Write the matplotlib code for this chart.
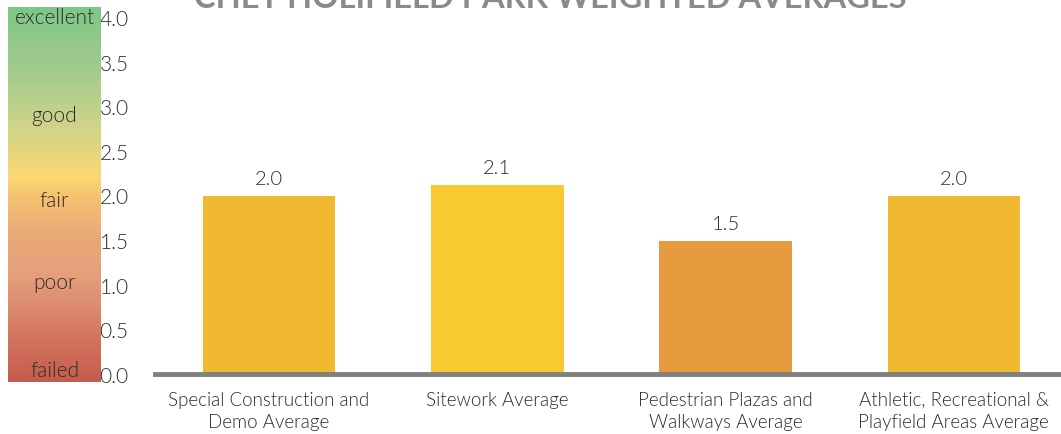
import matplotlib
matplotlib.use("Agg")
import matplotlib.pyplot as plt
import numpy as np
from matplotlib.colors import LinearSegmentedColormap

categories = ["Special Construction and\nDemo Average", "Sitework Average",
              "Pedestrian Plazas and\nWalkways Average", "Athletic, Recreational &\nPlayfield Areas Average"]
values = [2.0, 2.12, 1.49, 2.0]
value_labels = ["2.0", "2.1", "1.5", "2.0"]
bar_colors = ["#F0B92F", "#F8C930", "#E69B3E", "#F0B92F"]
yticks = [0.0, 0.5, 1.0, 1.5, 2.0, 2.5, 3.0, 3.5, 4.0]
scale_names = ["excellent", "good", "fair", "poor", "failed"]
scale_levels = [4.0, 2.9, 1.95, 1.03, 0.05]
title = "CHET HOLIFIELD PARK WEIGHTED AVERAGES"

plt.rcParams['font.family'] = ['Lato', 'DejaVu Sans']
W, H = 1061, 435
fig = plt.figure(figsize=(W/100, H/100), dpi=100)

def px(l, t, r, b):
    return [l/W, 1 - b/H, (r-l)/W, (b-t)/H]

LW = 300
TC = '#2b2b2b'
ax = fig.add_axes(px(155, 18, 1068, 375))
x = np.arange(len(categories))
ax.bar(x, values, width=0.58, color=bar_colors, zorder=2)
for xi, v, lab in zip(x, values, value_labels):
    ax.text(xi, v + 0.1, lab, ha='center', va='bottom', fontsize=14.5,
            color=TC, fontweight=LW)
ax.set_xlim(-0.5, 3.5)
ax.set_ylim(0, 4)
ax.set_yticks(yticks)
ax.set_yticklabels([f"{t:.1f}" for t in yticks], fontsize=15, color=TC, fontweight=LW)
ax.tick_params(axis='y', length=0, pad=19)
ax.set_xticks(x)
ax.set_xticklabels(categories, fontsize=13.5, color=TC, linespacing=1.4, fontweight=LW)
ax.tick_params(axis='x', length=0, pad=12)
for s in ['top', 'right', 'left']:
    ax.spines[s].set_visible(False)
ax.spines['bottom'].set_color('#808080')
ax.spines['bottom'].set_linewidth(3.5)
ax.spines['bottom'].set_zorder(3)

# colour scale
cax = fig.add_axes(px(8, 8, 101, 383))
ymin, ymax = -8/89.25, 4 + 10/89.25
cmap = LinearSegmentedColormap.from_list("scale", [
    (0.0, "#C65C4C"), (0.12, "#D27660"), (0.28, "#E59F7C"), (0.40, "#EAAA76"),
    (0.50, "#F5C470"), (0.545, "#FDD873"), (0.68, "#CFD488"), (0.82, "#A6CB8E"),
    (1.0, "#7CC786")])
grad = np.linspace(0, 1, 256).reshape(-1, 1)
cax.imshow(grad, aspect='auto', cmap=cmap, origin='lower', extent=[0, 1, ymin, ymax])
cax.set_xlim(0, 1)
cax.set_ylim(ymin, ymax)
cax.axis('off')
for name, lv in zip(scale_names, scale_levels):
    cax.text(0.5, lv, name, ha='center', va='center', fontsize=15,
             color=TC, fontweight=LW)

fig.text(550/W, 1 - 8/H, title, ha='center', va='baseline', fontsize=23.5,
         fontweight='bold', color='#8A8A8A')

fig.savefig("out.png", dpi=100)
